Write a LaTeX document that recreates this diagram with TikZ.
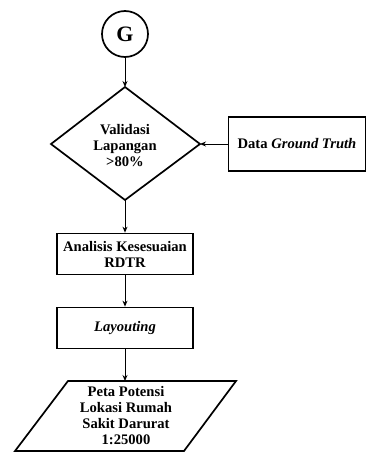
\documentclass[tikz,border=0pt]{standalone}
\usepackage{fontspec}
\setmainfont{Liberation Serif}
\usetikzlibrary{shapes.geometric,arrows.meta}
\begin{document}
\begin{tikzpicture}[x=1pt,y=-1pt,
  every node/.style={font=\fontsize{14.6}{16}\selectfont\bfseries, align=center, inner sep=0pt},
  frame/.style={draw, line width=1.7pt},
  flow/.style={draw, line width=0.9pt, -{Stealth[length=6pt,width=5pt]}}]
  \useasboundingbox (0,0) rectangle (366,455);
  % connector G
  \node[frame, circle, minimum size=46pt] (g) at (125,34) {\fontsize{22}{24}\selectfont G};
  % decision diamond
  \coordinate (dt) at (125,87);
  \coordinate (dl) at (51,144);
  \coordinate (dr) at (200,144);
  \coordinate (db) at (125,200);
  \draw[frame, line join=miter] (dt) -- (dr) -- (db) -- (dl) -- cycle;
  \node (dtext) at (125,146) {Validasi\\Lapangan\\>80\%};
  % field data input
  \node[frame, minimum width=137pt, minimum height=54pt] (gt) at (297,144) {Data \textit{Ground Truth}};
  % process boxes
  \node[frame, minimum width=136pt, minimum height=41pt] (an) at (125,254) {Analisis Kesesuaian\\RDTR};
  \node[frame, minimum width=136pt, minimum height=41pt] (lay) at (125,328) {\textit{Layouting}};
  % output parallelogram
  \coordinate (p1) at (68,381);
  \coordinate (p2) at (236,381);
  \coordinate (p3) at (184,451);
  \coordinate (p4) at (15,451);
  \draw[frame, line join=miter] (p1) -- (p2) -- (p3) -- (p4) -- cycle;
  \node (out) at (126,416) {Peta Potensi\\Lokasi Rumah\\Sakit Darurat\\1:25000};
  % connectors
  \draw[flow] (g.south) -- (dt);
  \draw[flow] (gt.west) -- (dr);
  \draw[flow] (db) -- (an.north);
  \draw[flow] (an.south) -- (lay.north);
  \draw[flow] (lay.south) -- (125,381);
\end{tikzpicture}
\end{document}
